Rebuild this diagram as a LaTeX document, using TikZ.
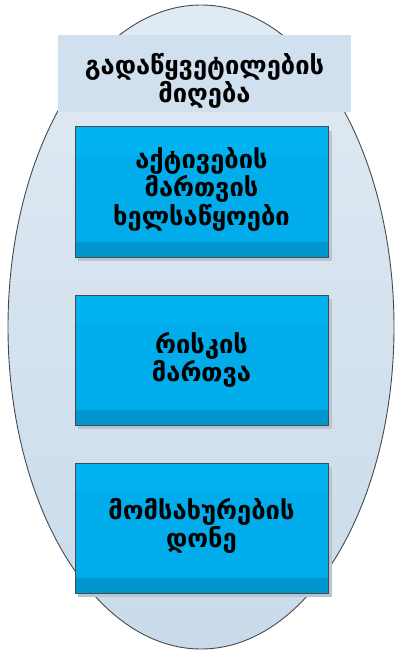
\documentclass[tikz,border=0pt]{standalone}
\usepackage{fontspec}
\newfontfamily\geo{DejaVu Sans}
\usetikzlibrary{shapes.geometric}
\definecolor{ellTop}{HTML}{E0EAF3}
\definecolor{ellBot}{HTML}{C9DBEA}
\definecolor{titleFill}{HTML}{D0E0EE}
\definecolor{boxFill}{HTML}{00ACEA}
\definecolor{boxTop}{HTML}{00B2F0}
\definecolor{boxBot}{HTML}{0096CE}
\definecolor{edge}{HTML}{454A50}
\definecolor{shadowc}{HTML}{B9C6D2}
\tikzset{
  lbl/.style={font=\geo\bfseries\fontsize{25.5}{28.5}\selectfont, align=center, text=black},
  boxedge/.style={draw=edge, line width=1pt},
}
\begin{document}
\begin{tikzpicture}[x=1pt,y=-1pt]
\useasboundingbox (0,0) rectangle (395,650);
% ellipse
\node[ellipse, draw=edge, line width=0.9pt, minimum width=386pt, minimum height=644pt, top color=ellTop, bottom color=ellBot, inner sep=0pt] (ell) at (201,327) {};
% title
\node[fill=titleFill, minimum width=293pt, minimum height=77pt, inner sep=0pt] (title) at (204.5,73.5) {};
\node[lbl] (titletxt) at (204.5,81) {გადაწყვეტილების\\მიღება};
% boxes
\foreach \n/\yt/\dy/\txt in {b1/127/62/{აქტივების\\მართვის\\ხელსაწყოები}, b2/295/65/{რისკის\\მართვა}, b3/463/63/{მომსახურების\\დონე}}{
  \fill[shadowc] (78,\yt+4) rectangle (332,\yt+134);
  \fill[boxFill] (75,\yt) rectangle (328,\yt+130);
  \fill[boxTop] (75,\yt) rectangle (328,\yt+28);
  \fill[boxBot] (75,\yt+115) rectangle (328,\yt+130);
  \draw[boxedge] (75,\yt) rectangle (328,\yt+130);
  \node[lbl] (\n) at (201.5,\yt+\dy) {\txt};
}
\end{tikzpicture}
\end{document}
